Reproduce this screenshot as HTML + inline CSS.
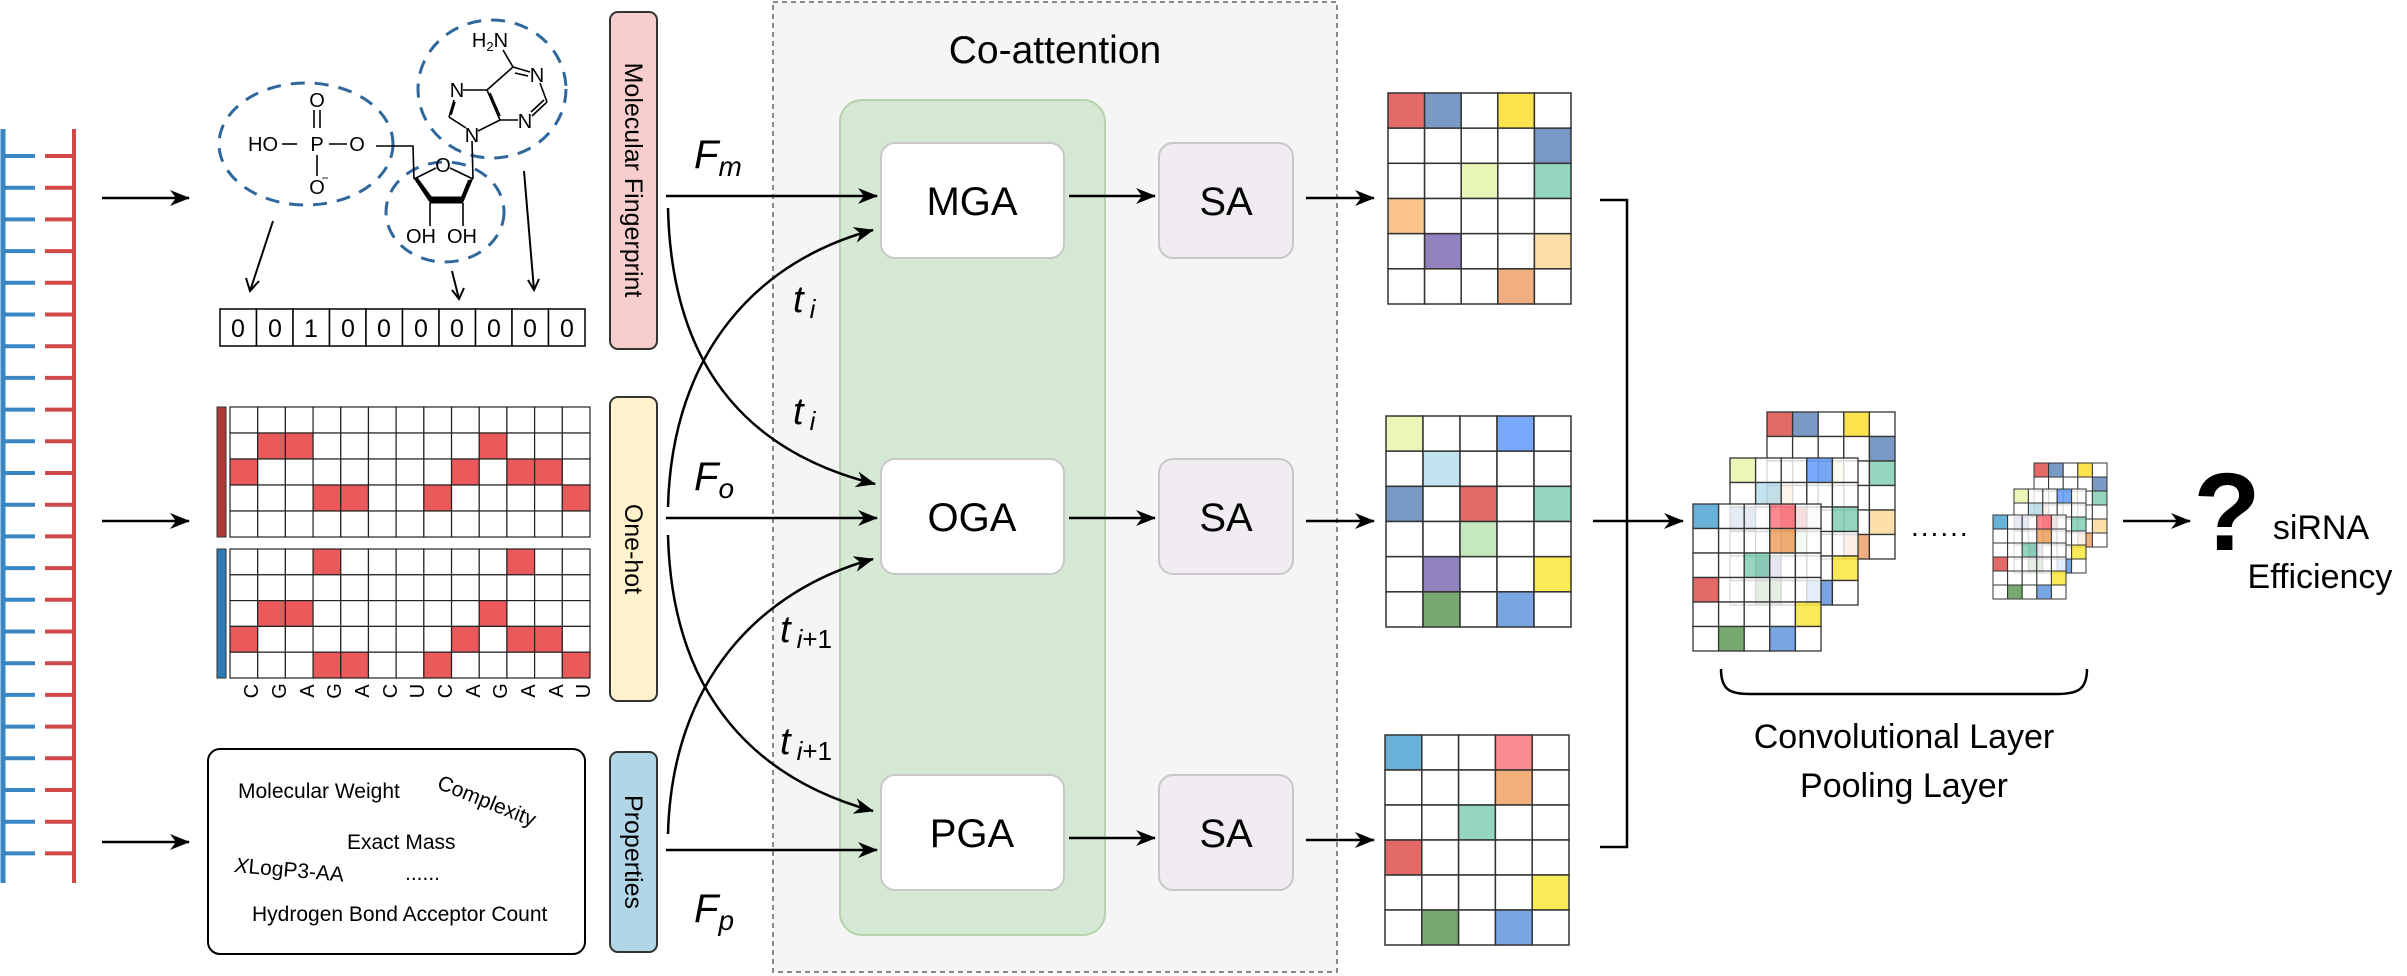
<!DOCTYPE html>
<html><head><meta charset="utf-8"><style>
html,body{margin:0;padding:0;background:#fff;}
svg{display:block;font-family:"Liberation Sans",Arial,sans-serif;}
</style></head><body>
<svg id="s" width="2407" height="976" viewBox="0 0 2407 976" xmlns="http://www.w3.org/2000/svg">
<defs>
<marker id="ar" viewBox="0 0 20 16" refX="19" refY="8" markerWidth="20" markerHeight="16" markerUnits="userSpaceOnUse" orient="auto">
<path d="M0,0 L20,8 L0,16 L6,8 Z" fill="#000"/></marker>
</defs>
<g id="dna"></g>
<g stroke="#000" stroke-width="2.5" fill="none">
<line x1="102" y1="198" x2="189" y2="198" marker-end="url(#ar)"/>
<line x1="102" y1="521" x2="189" y2="521" marker-end="url(#ar)"/>
<line x1="102" y1="842" x2="189" y2="842" marker-end="url(#ar)"/>
</g>
<g fill="none" stroke="#2f679c" stroke-width="3" stroke-dasharray="14 10">
<ellipse cx="306" cy="144" rx="87" ry="61"/>
<ellipse cx="445" cy="212" rx="59" ry="50"/>
<ellipse cx="492" cy="89" rx="74" ry="69"/>
</g>
<g font-size="20" text-anchor="middle" fill="#000">
<text x="317" y="107">O</text><text x="263" y="151">HO</text><text x="317" y="151">P</text><text x="357" y="151">O</text><text x="317" y="194">O</text><text x="325" y="182" font-size="12">−</text>
<text x="443" y="172">O</text><text x="472" y="142">N</text><text x="457" y="97">N</text><text x="537" y="82">N</text><text x="525" y="128">N</text>
<text x="490" y="47">H<tspan font-size="13" dy="4">2</tspan><tspan dy="-4">N</tspan></text>
<text x="421" y="243">OH</text><text x="462" y="243">OH</text>
</g>
<g stroke="#000" stroke-width="1.6" fill="none">
<line x1="314" y1="110" x2="314" y2="128"/><line x1="320" y1="110" x2="320" y2="128"/>
<line x1="282" y1="144" x2="297" y2="144"/><line x1="329" y1="144" x2="347" y2="144"/>
<line x1="317" y1="155" x2="317" y2="176"/>
<polyline points="376,146 413,146 414,179"/>
<line x1="414" y1="179" x2="436" y2="168"/><line x1="450" y1="168" x2="473" y2="179"/>
<line x1="473" y1="179" x2="472" y2="141"/>
<line x1="430" y1="203" x2="430" y2="226"/><line x1="463" y1="203" x2="463" y2="226"/>
<line x1="466" y1="128" x2="449" y2="117"/><line x1="449" y1="117" x2="454" y2="100"/><line x1="451" y1="115" x2="455" y2="102"/>
<line x1="463" y1="90" x2="487" y2="90"/><line x1="487" y1="90" x2="500" y2="120"/><line x1="490" y1="93" x2="500" y2="116"/>
<line x1="478" y1="131" x2="500" y2="120"/><line x1="500" y1="120" x2="518" y2="120"/>
<line x1="487" y1="90" x2="513" y2="67"/><line x1="513" y1="67" x2="530" y2="72"/><line x1="515" y1="73" x2="528" y2="76"/>
<line x1="540" y1="83" x2="547" y2="102"/><line x1="547" y1="102" x2="532" y2="116"/><line x1="544" y1="100" x2="531" y2="112"/>
<line x1="513" y1="67" x2="503" y2="50"/>
</g>
<polygon points="414,179 430,203 463,203 473,179 468,180 461,197 432,197 418,178" fill="#000"/>
<path d="M430,200 L463,200" stroke="#000" stroke-width="7"/>
<g stroke="#000" stroke-width="2" fill="none">
<line x1="273" y1="221" x2="250" y2="291"/><polyline points="246,278 250,291 259,281"/>
<line x1="452" y1="271" x2="459" y2="299"/><polyline points="452,290 459,299 464,288"/>
<line x1="524" y1="171" x2="534" y2="290"/><polyline points="528,280 534,290 539,279"/>
</g>
<g id="fp"></g>
<g id="oh"></g>
<rect x="208" y="749" width="377" height="205" rx="12" fill="#fff" stroke="#000" stroke-width="2"/>
<g font-size="21" fill="#000">
<text x="238" y="798">Molecular Weight</text>
<text x="436" y="788" transform="rotate(22 436 788)">Complexity</text>
<text x="347" y="849">Exact Mass</text>
<text x="234" y="872" font-style="italic" transform="rotate(5 234 872)">X<tspan font-style="normal">LogP3-AA</tspan></text>
<text x="405" y="880">......</text>
<text x="252" y="921">Hydrogen Bond Acceptor Count</text>
</g>
<g stroke="#333" stroke-width="2">
<rect x="610" y="12" width="47" height="337" rx="8" fill="#f8cecc"/>
<rect x="610" y="397" width="47" height="304" rx="8" fill="#fff2cc"/>
<rect x="610" y="752" width="47" height="200" rx="8" fill="#b1d6e8"/>
</g>
<g font-size="25" text-anchor="middle" fill="#000">
<text transform="translate(625 180) rotate(90)">Molecular Fingerprint</text>
<text transform="translate(625 549) rotate(90)">One-hot</text>
<text transform="translate(625 852) rotate(90)">Properties</text>
</g>
<rect x="773" y="2" width="564" height="970" fill="#f5f5f5" stroke="#888" stroke-width="2" stroke-dasharray="5 4"/>
<text x="1055" y="63" font-size="39" text-anchor="middle">Co-attention</text>
<rect x="840" y="100" width="265" height="835" rx="22" fill="#d5e8d4" stroke="#b5d3ad" stroke-width="2"/>
<g stroke="#c8c8c8" stroke-width="2">
<rect x="881" y="143" width="183" height="115" rx="14" fill="#fff"/>
<rect x="881" y="459" width="183" height="115" rx="14" fill="#fff"/>
<rect x="881" y="775" width="183" height="115" rx="14" fill="#fff"/>
<rect x="1159" y="143" width="134" height="115" rx="14" fill="#f0ecf2"/>
<rect x="1159" y="459" width="134" height="115" rx="14" fill="#f0ecf2"/>
<rect x="1159" y="775" width="134" height="115" rx="14" fill="#f0ecf2"/>
</g>
<g font-size="40" text-anchor="middle">
<text x="972" y="215">MGA</text><text x="972" y="531">OGA</text><text x="972" y="847">PGA</text>
<text x="1226" y="215">SA</text><text x="1226" y="531">SA</text><text x="1226" y="847">SA</text>
</g>
<g stroke="#000" stroke-width="2.5" fill="none">
<line x1="666" y1="196" x2="877" y2="196" marker-end="url(#ar)"/>
<line x1="666" y1="518" x2="877" y2="518" marker-end="url(#ar)"/>
<line x1="666" y1="850" x2="877" y2="850" marker-end="url(#ar)"/>
<path d="M668,208 C672,380 760,455 875,484" marker-end="url(#ar)"/>
<path d="M668,507 C672,350 760,260 873,230" marker-end="url(#ar)"/>
<path d="M668,535 C672,700 760,780 873,811" marker-end="url(#ar)"/>
<path d="M668,834 C672,680 760,590 873,559" marker-end="url(#ar)"/>
<line x1="1069" y1="196" x2="1155" y2="196" marker-end="url(#ar)"/>
<line x1="1069" y1="518" x2="1155" y2="518" marker-end="url(#ar)"/>
<line x1="1069" y1="838" x2="1155" y2="838" marker-end="url(#ar)"/>
<line x1="1306" y1="198" x2="1374" y2="198" marker-end="url(#ar)"/>
<line x1="1306" y1="521" x2="1374" y2="521" marker-end="url(#ar)"/>
<line x1="1306" y1="840" x2="1374" y2="840" marker-end="url(#ar)"/>
<polyline points="1600,200 1627,200 1627,847 1600,847"/>
<line x1="1593" y1="521" x2="1683" y2="521" marker-end="url(#ar)"/>
<line x1="2123" y1="521" x2="2190" y2="521" marker-end="url(#ar)"/>
<path d="M1721,669 C1721,690 1730,694 1750,694 L2057,694 C2077,694 2087,690 2087,669"/>
</g>
<g font-style="italic" fill="#000">
<text x="694" y="168" font-size="40">F<tspan font-size="28" dy="8">m</tspan></text>
<text x="694" y="490" font-size="40">F<tspan font-size="28" dy="8">o</tspan></text>
<text x="694" y="922" font-size="40">F<tspan font-size="28" dy="8">p</tspan></text>
<text x="793" y="312" font-size="38">t<tspan font-size="26" dx="6" dy="6">i</tspan></text>
<text x="793" y="424" font-size="38">t<tspan font-size="26" dx="6" dy="6">i</tspan></text>
<text x="780" y="642" font-size="38">t<tspan font-size="26" dx="6" dy="6">i<tspan font-style="normal">+1</tspan></tspan></text>
<text x="780" y="754" font-size="38">t<tspan font-size="26" dx="6" dy="6">i<tspan font-style="normal">+1</tspan></tspan></text>
</g>
<g id="mats"></g>
<text x="1911" y="536" font-size="28" letter-spacing="2">......</text>
<text x="2227" y="550" font-size="110" font-weight="bold" text-anchor="middle">?</text>
<text x="2321" y="539" font-size="34" text-anchor="middle">siRNA</text>
<text x="2320" y="588" font-size="34" text-anchor="middle">Efficiency</text>
<text x="1904" y="748" font-size="34" text-anchor="middle">Convolutional Layer</text>
<text x="1904" y="797" font-size="34" text-anchor="middle">Pooling Layer</text>
<g font-size="25" text-anchor="middle">
<text x="238" y="337">0</text><text x="275" y="337">0</text><text x="311" y="337">1</text><text x="348" y="337">0</text><text x="384" y="337">0</text><text x="421" y="337">0</text><text x="457" y="337">0</text><text x="494" y="337">0</text><text x="530" y="337">0</text><text x="567" y="337">0</text>
</g>
<g font-size="20" text-anchor="middle">
<text transform="translate(251 691) rotate(-90)" dy="7">C</text>
<text transform="translate(279 691) rotate(-90)" dy="7">G</text>
<text transform="translate(307 691) rotate(-90)" dy="7">A</text>
<text transform="translate(334 691) rotate(-90)" dy="7">G</text>
<text transform="translate(362 691) rotate(-90)" dy="7">A</text>
<text transform="translate(390 691) rotate(-90)" dy="7">C</text>
<text transform="translate(417 691) rotate(-90)" dy="7">U</text>
<text transform="translate(445 691) rotate(-90)" dy="7">C</text>
<text transform="translate(473 691) rotate(-90)" dy="7">A</text>
<text transform="translate(500 691) rotate(-90)" dy="7">G</text>
<text transform="translate(528 691) rotate(-90)" dy="7">A</text>
<text transform="translate(556 691) rotate(-90)" dy="7">A</text>
<text transform="translate(583 691) rotate(-90)" dy="7">U</text>
</g>
</svg>
<script>
var NS="http://www.w3.org/2000/svg";
function el(p,t,a){var e=document.createElementNS(NS,t);for(var k in a)e.setAttribute(k,a[k]);p.appendChild(e);return e;}
var dna=document.getElementById('dna');
el(dna,'line',{x1:3,y1:129,x2:3,y2:883,stroke:'#3a86c2','stroke-width':5});
el(dna,'line',{x1:74,y1:129,x2:74,y2:883,stroke:'#d04848','stroke-width':4});
for(var i=0;i<23;i++){var y=156+i*31.7;
el(dna,'line',{x1:3,y1:y,x2:35,y2:y,stroke:'#3a86c2','stroke-width':4});
el(dna,'line',{x1:45,y1:y,x2:74,y2:y,stroke:'#d04848','stroke-width':4});}
var fp=document.getElementById('fp');
for(var i=0;i<10;i++)el(fp,'rect',{x:220+i*36.5,y:309,width:36.5,height:37,fill:'#fff',stroke:'#000','stroke-width':1.5});
var oh=document.getElementById('oh');
el(oh,'rect',{x:217,y:407,width:9,height:130,fill:'#b03a3a',stroke:'#333','stroke-width':1});
el(oh,'rect',{x:217,y:549,width:9,height:129,fill:'#2f7bb5',stroke:'#333','stroke-width':1});
var g1=[[],[1,2,9],[0,8,10,11],[3,4,7,12],[]];
var g2=[[3,10],[],[1,2,9],[0,8,10,11],[3,4,7,12]];
function grid(y0,h,g){var cw=360/13;for(var r=0;r<5;r++)for(var c=0;c<13;c++){
el(oh,'rect',{x:230+c*cw,y:y0+r*h,width:cw,height:h,fill:g[r].indexOf(c)>=0?'#ea5a5a':'#fff',stroke:'#222','stroke-width':1.2});}}
grid(407,26,g1);grid(549,25.8,g2);
var W='#fff';
var M1=[['#e05a56','#6c8ebf',W,'#fde03a',W],[W,W,W,W,'#6c8ebf'],[W,W,'#e6f5b0',W,'#88d1b8'],['#fbbf80',W,W,W,W],[W,'#8674b6',W,W,'#fcdca0'],[W,W,W,'#f0a572',W]];
var M2=[['#e9f5b0',W,W,'#6aa0fb',W],[W,'#bde0ef',W,W,W],['#6c8ebf',W,'#e05a56',W,'#88d1b8'],[W,W,'#bfe5b8',W,W],[W,'#8674b6',W,W,'#fae845'],[W,'#68a060',W,'#6c9be0',W]];
var M3=[['#5aa8d6',W,W,'#fc7d85',W],[W,W,W,'#f2a66a',W],[W,W,'#88d1b8',W,W],['#e05a56',W,W,W,W],[W,W,W,W,'#fae845'],[W,'#68a060',W,'#6c9be0',W]];
var mats=document.getElementById('mats');
function mat(M,x,y,w,h,op,sw){var cw=w/5,ch=h/6;var g=el(mats,'g',{});
for(var r=0;r<6;r++)for(var c=0;c<5;c++){var f=M[r][c];
el(g,'rect',{x:x+c*cw,y:y+r*ch,width:cw,height:ch,fill:f,'fill-opacity':f==W?op:0.9,stroke:'#333','stroke-width':sw});}}
mat(M1,1388,93,183,211,1,1.5);mat(M2,1386,416,185,211,1,1.5);mat(M3,1385,735,184,210,1,1.5);
mat(M1,1767,412,128,147,1,1.3);mat(M2,1730,458,128,147,0.8,1.3);mat(M3,1693,504,128,147,0.8,1.3);
mat(M1,2034,463,73,84,1,1);mat(M2,2014,489,72,84,0.8,1);mat(M3,1993,515,73,84,0.8,1);
</script>
</body></html>
